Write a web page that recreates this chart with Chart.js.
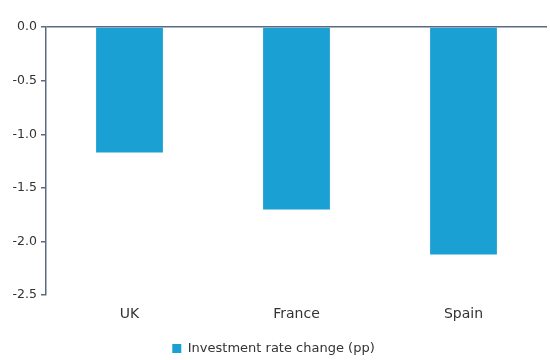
<!DOCTYPE html>
<html>
<head>
<meta charset="utf-8">
<script src="https://cdn.jsdelivr.net/npm/chart.js@4/dist/chart.umd.min.js"></script>
<style>
  html, body { margin: 0; padding: 0; background: #fff; }
  #wrap { width: 550px; height: 360px; }
</style>
</head>
<body>
<div id="wrap"><canvas id="chart" width="550" height="360"></canvas></div>
<script>
const categories = ["UK", "France", "Spain"];
const seriesName = "Investment rate change (pp)";
const investmentChange = [-1.17, -1.70, -2.12];

const axisColor = "#5b6a80";
const barColor = "#1aa0d3";
const textColor = "#333333";

// nudge the legend a few px lower than the layout puts it
const legendNudge = {
  id: "legendNudge",
  afterLayout(chart) {
    if (chart.legend) {
      chart.legend.top += 5;
      chart.legend.bottom += 5;
    }
  }
};

const ctx = document.getElementById("chart").getContext("2d");
new Chart(ctx, {
  type: "bar",
  data: {
    labels: categories,
    datasets: [{
      label: seriesName,
      data: investmentChange,
      backgroundColor: barColor,
      borderWidth: 0,
      categoryPercentage: 1.0,
      barPercentage: 0.4
    }]
  },
  options: {
    responsive: false,
    animation: false,
    layout: { padding: { top: 27, right: 3, left: 0, bottom: 0 } },
    plugins: {
      legend: {
        position: "bottom",
        labels: {
          boxWidth: 9,
          boxHeight: 9,
          padding: 1,
          color: textColor,
          font: { family: "DejaVu Sans", size: 13 }
        }
      },
      tooltip: { enabled: false }
    },
    scales: {
      x: {
        afterFit: s => { s.height += 10; },
        grid: { display: false },
        border: { display: false },
        ticks: {
          color: textColor,
          padding: 3,
          font: { family: "DejaVu Sans", size: 14 }
        }
      },
      y: {
        min: -2.5,
        max: 0,
        afterFit: s => { s.width = 46; },
        border: { display: true, color: axisColor, width: 1.5 },
        grid: {
          drawOnChartArea: true,
          color: c => (c.tick && c.tick.value === 0) ? axisColor : "rgba(0,0,0,0)",
          lineWidth: 1.5,
          tickColor: axisColor,
          tickLength: 5
        },
        ticks: {
          stepSize: 0.5,
          color: textColor,
          padding: 4,
          font: { family: "DejaVu Sans", size: 12.5 },
          callback: v => Number(v).toFixed(1)
        }
      }
    }
  },
  plugins: [legendNudge]
});
</script>
</body>
</html>
